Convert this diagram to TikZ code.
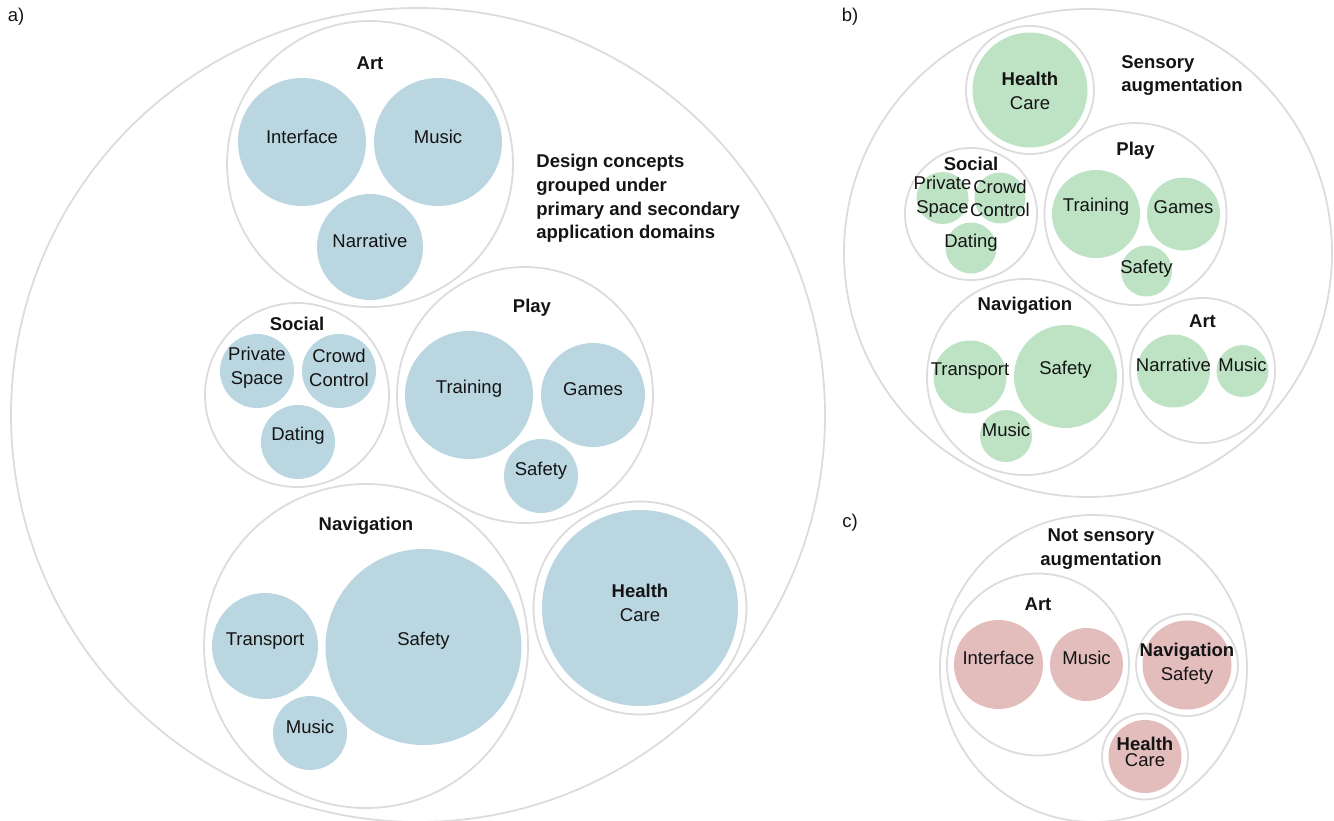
\documentclass[tikz,border=0pt]{standalone}
\usepackage{fontspec}
\setmainfont{Liberation Sans}
\usepackage{xcolor}
\definecolor{cLine}{HTML}{DCDCDC}
\definecolor{cBlue}{HTML}{BAD6E1}
\definecolor{cGreen}{HTML}{BDE3C4}
\definecolor{cRose}{HTML}{E3BCBC}
\definecolor{cInk}{HTML}{141414}
\usepackage{tikz}
\usetikzlibrary{positioning,calc}
\tikzset{
  node-group/.style={draw=cLine,line width=0.9pt,circle,inner sep=0pt,
    minimum size=#1pt},
  node-leaf/.style={circle,inner sep=0pt,minimum size=#1pt},
  leaf-a/.style={node-leaf=#1,fill=cBlue},
  leaf-b/.style={node-leaf=#1,fill=cGreen},
  leaf-c/.style={node-leaf=#1,fill=cRose},
  node-text/.style={inner sep=0pt,align=center,text=cInk,
    font=\fontsize{9.25}{11.8}\selectfont},
  node-head/.style={node-text,font=\fontsize{9.25}{11.8}\selectfont\bfseries},
  node-tag/.style={inner sep=0pt,text=cInk,font=\fontsize{9.25}{11}\selectfont},
}

\begin{document}
\begin{tikzpicture}[x=0.5pt,y=-0.5pt]
  \useasboundingbox (0,0) rectangle (1334,820);
  \node[node-tag] (tag-a) at (16,17) {a)};
  \node[node-tag] (tag-b) at (850,17) {b)};
  \node[node-tag] (tag-c) at (850,523) {c)};

  % a) all design concepts
  \node[node-group=407] (a) at (418,415) {};
  \node[node-head,anchor=west,align=left] (a-title) at (536,198.5)
    {Design concepts\\grouped under\\primary and secondary\\application domains};
  \foreach \n/\x/\y/\r/\lx/\ly/\t in {art/370/164/143/0/-101/Art,
      soc/297/395/92/0/-71/Social, play/525/395/128/7/-87/Play,
      nav/366/646/162/0/-120/Navigation} {
    \node[node-group=\r] (a-\n) at (\x,\y) {};
    \node[node-head] (a-\n-head) at ($(a-\n.center)+(\lx,\ly)$) {\t};
  }
  \foreach \n/\x/\y/\r/\ty/\t in {int/302/142/64/-5/Interface,
      mus/438/142/64/-5/Music, nar/370/247/53/-6/Narrative,
      prv/257/371/37/-3/{Private\\Space}, crw/339/371/37/-3/{Crowd\\Control},
      dat/298/442/37/-6/Dating,
      trn/469/395/64/-6/Training, gam/593/395/52/-6/Games,
      saf/541/476/37/-5/Safety,
      trp/265/646/53/-5/Transport, nsf/423.5/647/98/-6/Safety,
      nmu/310/733/37/-6/Music} {
    \node[leaf-a=\r] (a-\n) at (\x,\y) {};
    \node[node-text] (a-\n-txt) at ($(a-\n.center)+(0,\ty)$) {\t};
  }
  \node[node-group=106.5] (a-hc) at (640,608) {};
  \node[leaf-a=98] (a-hc-in) at (a-hc.center) {};
  \node[node-text] (a-hc-txt) at ($(a-hc.center)+(0,-5)$) {\textbf{Health}\\Care};

  % b) sensory augmentation
  \node[node-group=244] (b) at (1088,253) {};
  \node[node-head,anchor=west,align=left] (b-title) at (1121,75.5)
    {Sensory\\augmentation};
  \node[node-group=64] (b-hc) at (1030,90) {};
  \node[leaf-b=57.5] (b-hc-in) at (b-hc.center) {};
  \node[node-text] (b-hc-txt) at ($(b-hc.center)+(0,1)$) {\textbf{Health}\\Care};
  \foreach \n/\x/\y/\r/\lx/\ly/\t in {soc/971/214/66/0/-50/Social,
      play/1135.5/214/91/0/-63/Play, nav/1025/377/98/0/-71/Navigation,
      art/1202.5/370.5/72.5/0/-49.5/Art} {
    \node[node-group=\r] (b-\n) at (\x,\y) {};
    \node[node-head] (b-\n-head) at ($(b-\n.center)+(\lx,\ly)$) {\t};
  }
  \foreach \n/\x/\y/\r/\ty/\t in {prv/942.5/198/26/-1.5/{Private\\Space},
      crw/1000/198/25.5/0.5/{Crowd\\Control}, dat/971/248/25.5/-5/Dating,
      trn/1096/214/44/-7/Training, gam/1183.5/214/36.5/-7/Games,
      saf/1146.5/271/25.5/-2/Safety,
      trp/970/377/36.5/-6/Transport, nsf/1065.5/376.5/51.5/-6.5/Safety,
      nmu/1006/436/26/-6/Music,
      nar/1173.5/371/36.5/-6/Narrative, amu/1242.5/371/26/-6/Music} {
    \node[leaf-b=\r] (b-\n) at (\x,\y) {};
    \node[node-text] (b-\n-txt) at ($(b-\n.center)+(0,\ty)$) {\t};
  }

  % c) not sensory augmentation
  \node[node-group=153.5] (c) at (1093.5,668.5) {};
  \node[node-head] (c-title) at (1101,549) {Not sensory\\augmentation};
  \node[node-group=91] (c-art) at (1038,664.5) {};
  \node[node-head] (c-art-head) at ($(c-art.center)+(0,-60.5)$) {Art};
  \node[leaf-c=44.5] (c-int) at (998.5,664.5) {};
  \node[node-text] (c-int-txt) at ($(c-int.center)+(0,-6.5)$) {Interface};
  \node[leaf-c=36.5] (c-mus) at (1086.5,664.5) {};
  \node[node-text] (c-mus-txt) at ($(c-mus.center)+(0,-6.5)$) {Music};
  \node[node-group=51] (c-nav) at (1187,665) {};
  \node[leaf-c=44.5] (c-nav-in) at (c-nav.center) {};
  \node[node-text] (c-nav-txt) at ($(c-nav.center)+(0,-1)$) {\textbf{Navigation}\\Safety};
  \node[node-group=43] (c-hc) at (1145,756.5) {};
  \node[leaf-c=36.5] (c-hc-in) at (c-hc.center) {};
  \node[node-text,font=\fontsize{9.25}{8}\selectfont] (c-hc-txt)
    at ($(c-hc.center)+(0,-4.5)$) {\textbf{Health}\\Care};
\end{tikzpicture}
\end{document}
